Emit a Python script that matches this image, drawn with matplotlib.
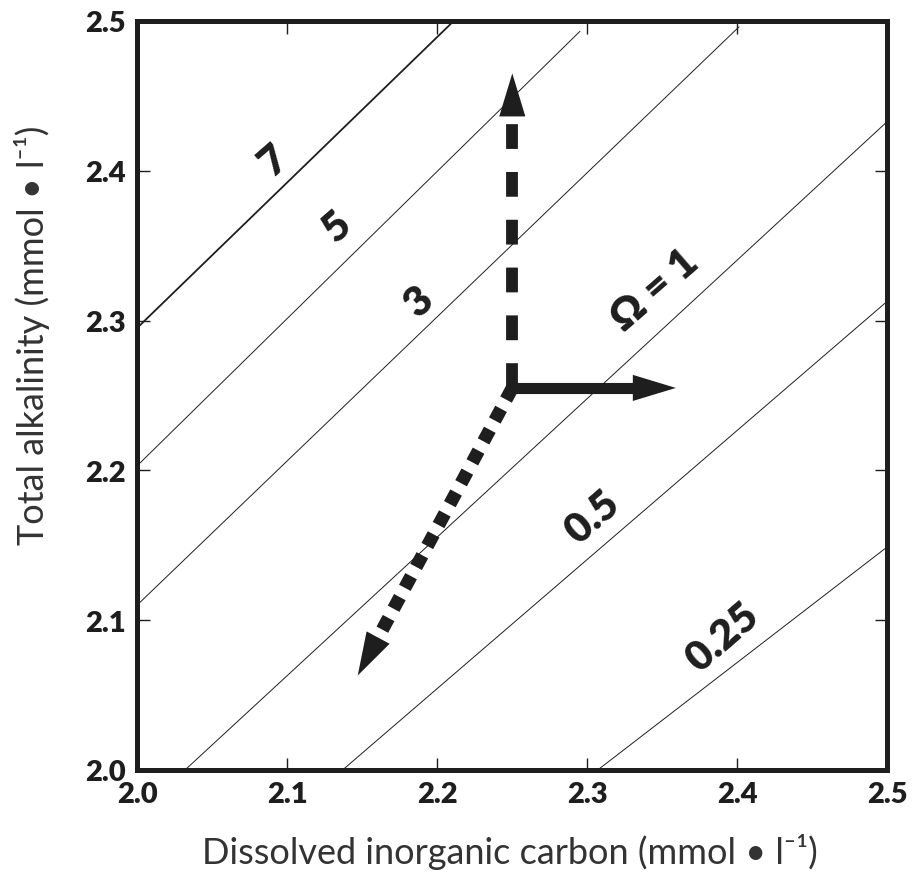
import matplotlib
matplotlib.use("Agg")
import matplotlib.pyplot as plt

plt.rcParams['font.family'] = ['Lato', 'DejaVu Sans']

# saturation isolines (omega)
line_labels = ['7', '5', '3', 'Ω = 1', '0.5', '0.25']
x_start = [2.000, 2.000, 2.000, 2.032, 2.137, 2.307]
y_start = [2.295, 2.203, 2.110, 2.000, 2.000, 2.000]
x_end = [2.211, 2.295, 2.401, 2.500, 2.500, 2.500]
y_end = [2.500, 2.493, 2.496, 2.433, 2.313, 2.149]
label_x = [2.091, 2.133, 2.188, 2.345, 2.303, 2.390]
label_y = [2.407, 2.363, 2.313, 2.321, 2.169, 2.089]

# arrows: start point and tips
origin = (2.250, 2.255)
tip_up = (2.250, 2.465)
tip_right = (2.359, 2.255)
tip_down = (2.147, 2.063)

ticks = [2.0, 2.1, 2.2, 2.3, 2.4, 2.5]
tick_labels = ['2.0', '2.1', '2.2', '2.3', '2.4', '2.5']

fig = plt.figure(figsize=(9.14, 8.78), dpi=100)
ax = fig.add_axes([0.150, 0.122, 0.821, 0.853])

ink = '#1e1e1e'
for i in range(len(line_labels)):
    lw = 1.3 if i == 0 else 0.7
    ax.plot([x_start[i], x_end[i]], [y_start[i], y_end[i]], color=ink, lw=lw)
    ax.text(label_x[i], label_y[i], line_labels[i], fontsize=30, fontweight='heavy',
            color=ink, rotation=41, rotation_mode='anchor', ha='center', va='center')

# dashed arrow up
ax.plot([origin[0], tip_up[0]], [origin[1], tip_up[1] - 0.025], color=ink, lw=8.5,
        linestyle=(0, (2.1, 1.95)), solid_capstyle='butt', dash_capstyle='butt')
# solid arrow right
ax.plot([origin[0], tip_right[0] - 0.025], [origin[1], tip_right[1]], color=ink, lw=8,
        solid_capstyle='butt')
# dotted arrow down-left
dx = tip_down[0] - origin[0]
dy = tip_down[1] - origin[1]
ax.plot([origin[0], tip_down[0] - 0.11 * dx], [origin[1], tip_down[1] - 0.11 * dy],
        color=ink, lw=9.5, linestyle=(0, (1.0, 0.8)), dash_capstyle='butt')

for tip in (tip_up, tip_right, tip_down):
    ax.annotate('', xy=tip, xytext=origin,
                arrowprops=dict(arrowstyle='-|>,head_length=1.55,head_width=0.47',
                                mutation_scale=20, color=ink, lw=0,
                                shrinkA=0, shrinkB=0))

ax.set_xlim(2.0, 2.5)
ax.set_ylim(2.0, 2.5)
ax.set_xticks(ticks)
ax.set_yticks(ticks)
ax.set_xticklabels(tick_labels)
ax.set_yticklabels(tick_labels)
ax.tick_params(direction='in', length=9, width=1, top=True, right=True,
               labelsize=21, colors=ink, pad=8)
for lab in ax.get_xticklabels() + ax.get_yticklabels():
    lab.set_fontweight('heavy')
for sp in ax.spines.values():
    sp.set_linewidth(3.6)
    sp.set_color(ink)

ax.set_xlabel('Dissolved inorganic carbon (mmol • l⁻¹)', fontsize=26,
              color='#333333', va='center', ha='center')
ax.set_ylabel('Total alkalinity (mmol • l⁻¹)', fontsize=26,
              color='#333333', va='center', ha='center')
ax.xaxis.set_label_coords(0.497, -0.108)
ax.yaxis.set_label_coords(-0.14, 0.581)

fig.savefig('out.png', dpi=100)
